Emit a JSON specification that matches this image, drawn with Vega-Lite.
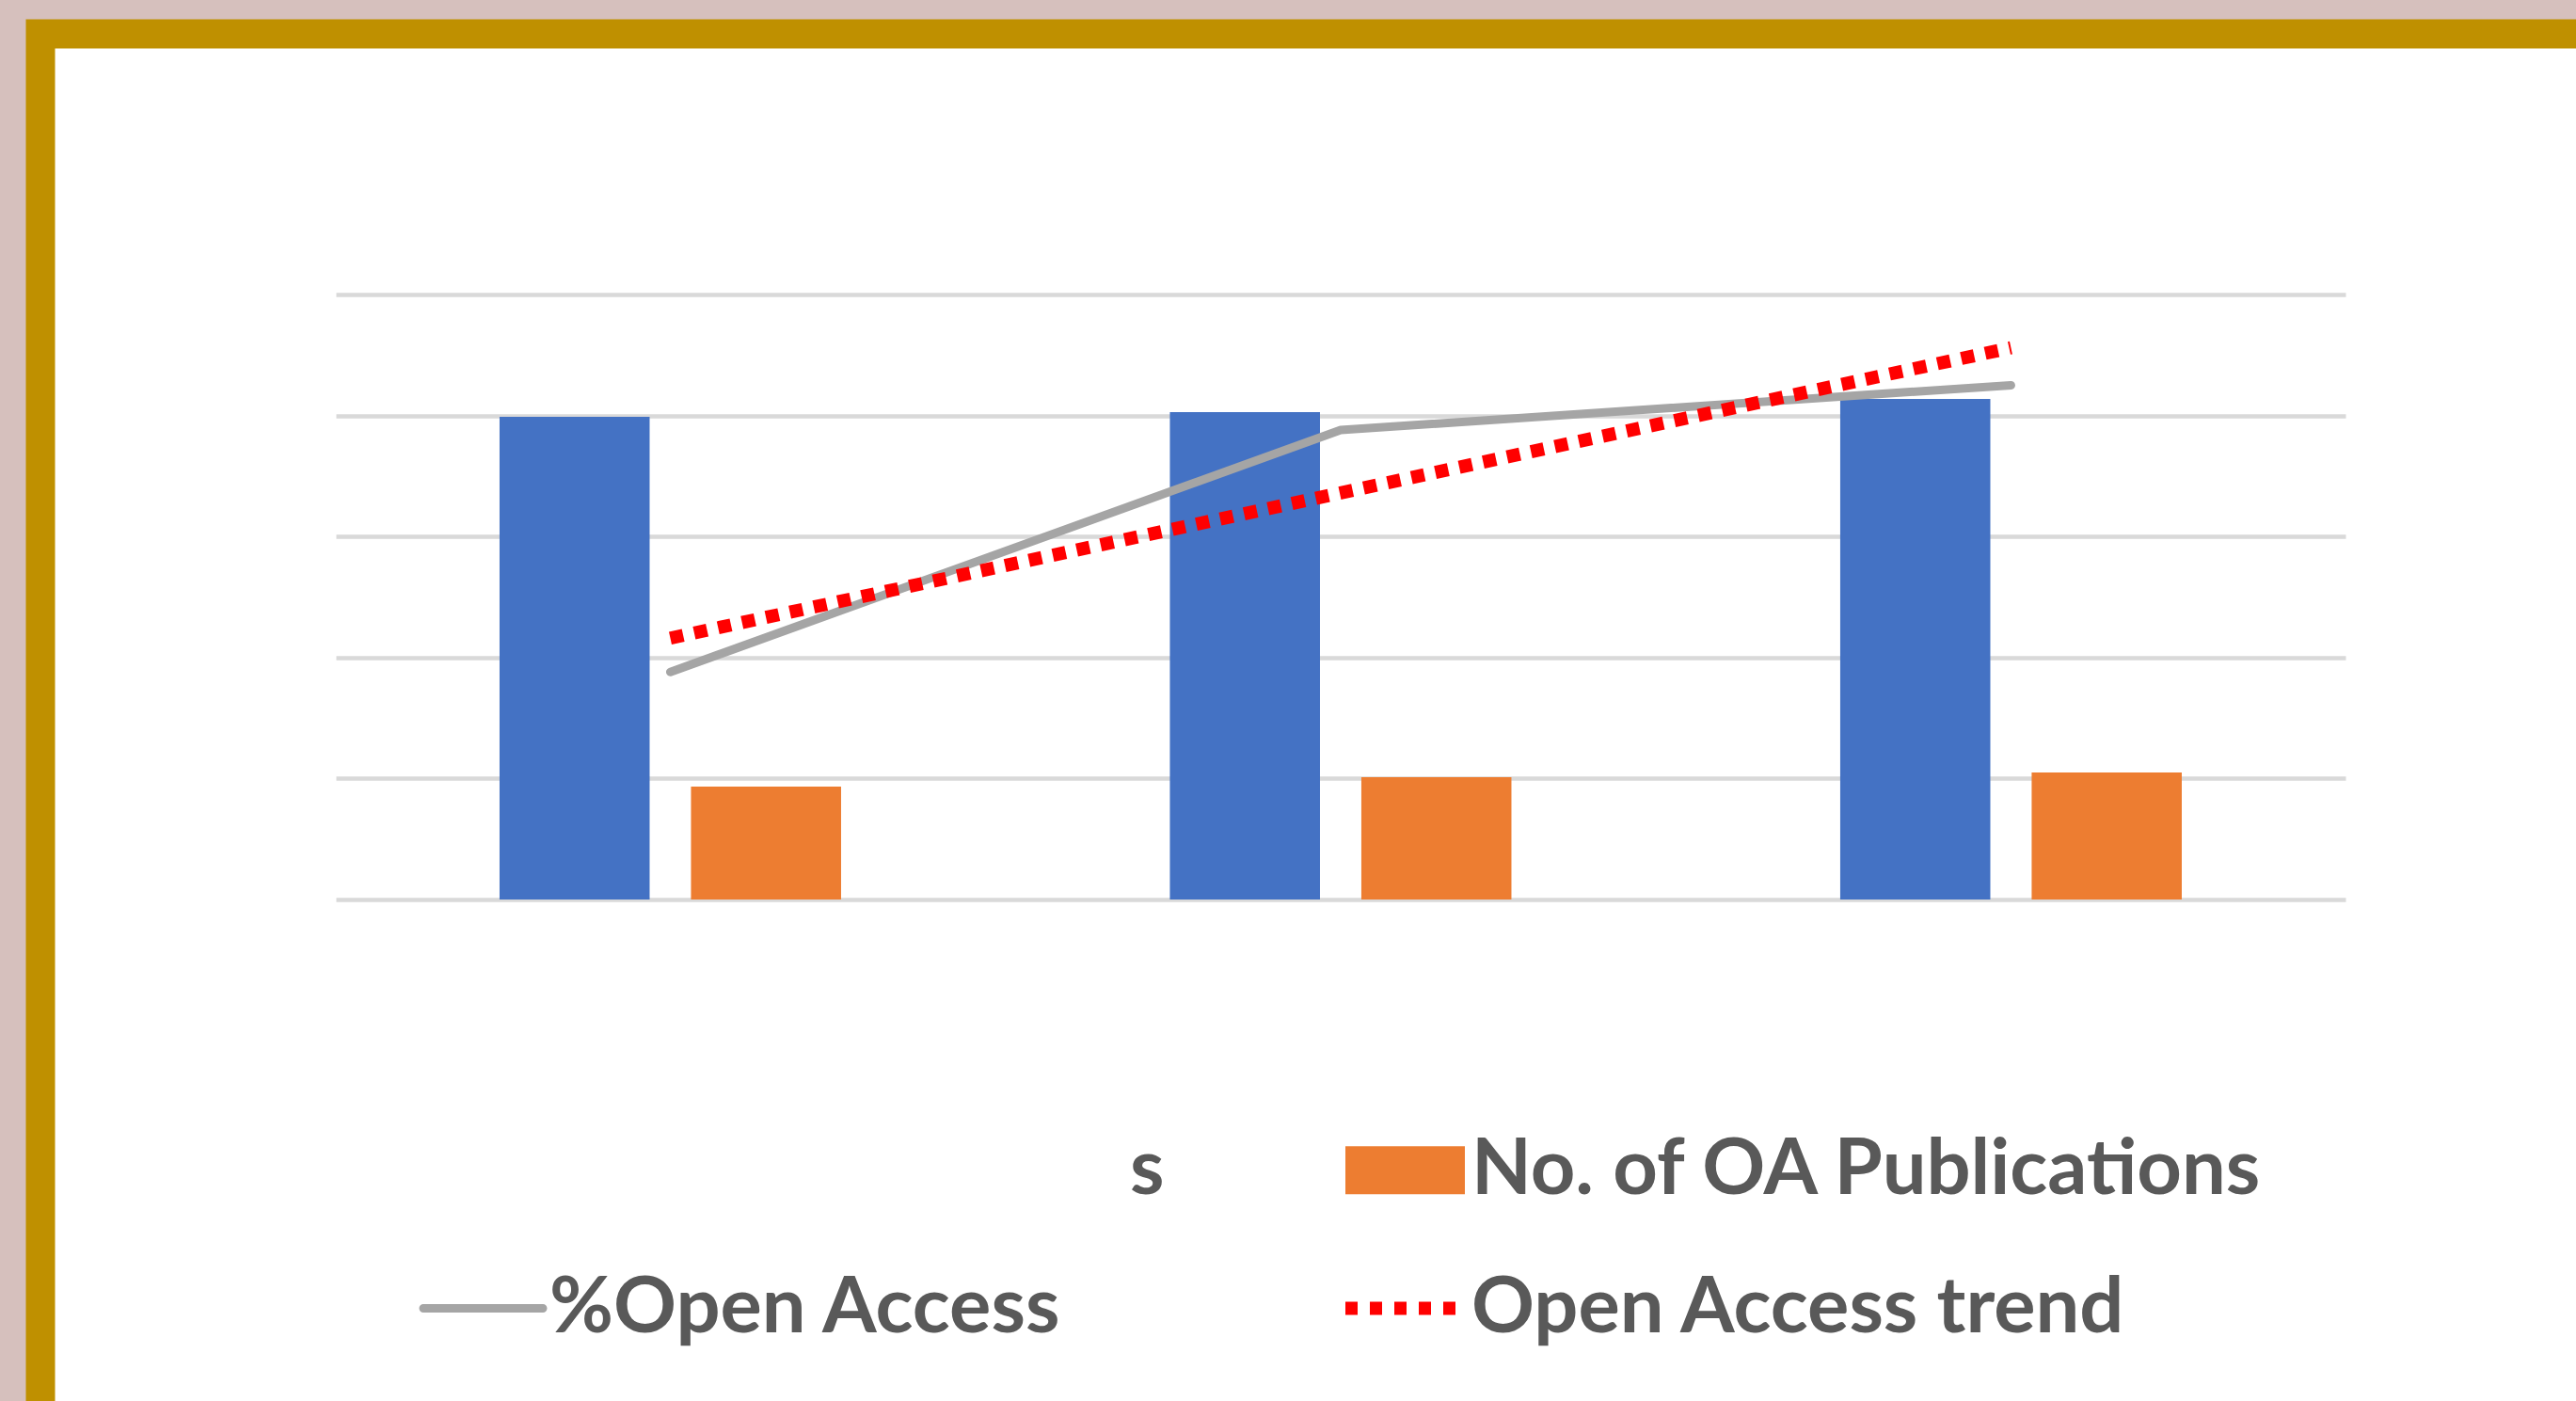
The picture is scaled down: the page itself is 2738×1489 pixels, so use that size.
{
  "$schema": "https://vega.github.io/schema/vega-lite/v6.json",
  "width": 2738,
  "height": 1489,
  "autosize": {"type": "fit", "contains": "padding"},
  "padding": {"left": 43, "top": 36, "right": 0, "bottom": 0},
  "background": "#d6c0bd",
  "config": {
    "view": {"fill": "#ffffff", "stroke": "#BF9000", "strokeWidth": 31, "strokeCap": "square", "strokeDash": [2695, 4148, 1500, 0]},
    "font": "Lato"
  },
  "data": {
    "values": [
      {"group": "G1", "series": "s", "value": 1995},
      {"group": "G1", "series": "No. of OA Publications", "value": 467},
      {"group": "G1", "series": "%Open Access", "value": 22.88},
      {"group": "G1", "series": "Open Access trend", "value": 23.16},
      {"group": "G2", "series": "s", "value": 2014},
      {"group": "G2", "series": "No. of OA Publications", "value": 505},
      {"group": "G2", "series": "%Open Access", "value": 24.88},
      {"group": "G2", "series": "Open Access trend", "value": 24.36},
      {"group": "G3", "series": "s", "value": 2068},
      {"group": "G3", "series": "No. of OA Publications", "value": 525},
      {"group": "G3", "series": "%Open Access", "value": 25.25},
      {"group": "G3", "series": "Open Access trend", "value": 25.56}
    ]
  },
  "encoding": {
    "x": {"field": "group", "type": "nominal", "sort": null, "axis": null,
          "scale": {"paddingInner": 0.4905, "paddingOuter": 0.6365, "align": 0.538}},
    "color": {
      "field": "series", "type": "nominal",
      "scale": {"domain": ["s", "No. of OA Publications", "%Open Access", "Open Access trend"],
                "range": ["#4472C4", "#ED7D31", "#A5A5A5", "#FF0000"]},
      "legend": {
        "title": null, "orient": "none", "legendX": 429, "legendY": 1166,
        "direction": "horizontal", "columns": 2, "columnPadding": 164, "rowPadding": 63,
        "padding": 0, "symbolSize": 16129, "symbolOffset": 0, "labelOffset": 29,
        "labelFont": "Lato", "labelFontSize": 83, "labelFontWeight": "bold", "labelColor": "#595959",
        "labelLimit": 3000,
        "encode": {
          "symbols": {
            "update": {
              "shape": {"signal": "datum.value === '%Open Access' || datum.value === 'Open Access trend' ? 'stroke' : 'M-1,-0.4H1V0.4H-1Z'"},
              "fill": {"signal": "datum.value === '%Open Access' || datum.value === 'Open Access trend' ? 'transparent' : scale('color', datum.value)"},
              "stroke": {"signal": "scale('color', datum.value)"},
              "strokeWidth": {"signal": "datum.value === 'Open Access trend' ? 14 : (datum.value === '%Open Access' ? 9 : 0)"},
              "strokeDash": {"signal": "datum.value === 'Open Access trend' ? [13, 13] : [1, 0]"},
              "strokeCap": {"signal": "datum.value === '%Open Access' ? 'round' : 'butt'"},
              "opacity": {"signal": "datum.value === 's' ? 0 : 1"}
            }
          },
          "labels": {
            "update": {
              "dx": {"signal": "datum.value === 's' ? 617 : 0"}
            }
          }
        }
      }
    }
  },
  "layer": [
    {
      "transform": [{"filter": "datum.series === 's' || datum.series === 'No. of OA Publications'"}],
      "mark": {"type": "bar"},
      "encoding": {
        "y": {"field": "value", "type": "quantitative",
              "scale": {"domain": [0, 2500], "range": [920, 277], "nice": false, "zero": false},
              "axis": {"orient": "left", "grid": true, "gridColor": "#D9D9D9", "gridWidth": 4.5,
                       "gridDash": [0, 314, 2136, 400], "labels": false, "ticks": false, "domain": false,
                       "title": null, "values": [0, 500, 1000, 1500, 2000, 2500]}},
        "xOffset": {"field": "series", "type": "nominal", "sort": null,
                    "scale": {"domain": ["s", "No. of OA Publications"], "paddingInner": 0.216}}
      }
    },
    {
      "transform": [{"filter": "datum.series === '%Open Access'"}],
      "mark": {"type": "line", "strokeWidth": 9, "strokeCap": "round", "strokeJoin": "round"},
      "encoding": {
        "y": {"field": "value", "type": "quantitative",
              "scale": {"domain": [21, 26], "range": [920, 277], "nice": false, "zero": false},
              "axis": null}
      }
    },
    {
      "transform": [{"filter": "datum.series === 'Open Access trend'"}],
      "mark": {"type": "line", "strokeWidth": 14, "strokeDash": [14, 12]},
      "encoding": {
        "y": {"field": "value", "type": "quantitative",
              "scale": {"domain": [21, 26], "range": [920, 277], "nice": false, "zero": false},
              "axis": null}
      }
    }
  ],
  "resolve": {"scale": {"y": "independent"}}
}
